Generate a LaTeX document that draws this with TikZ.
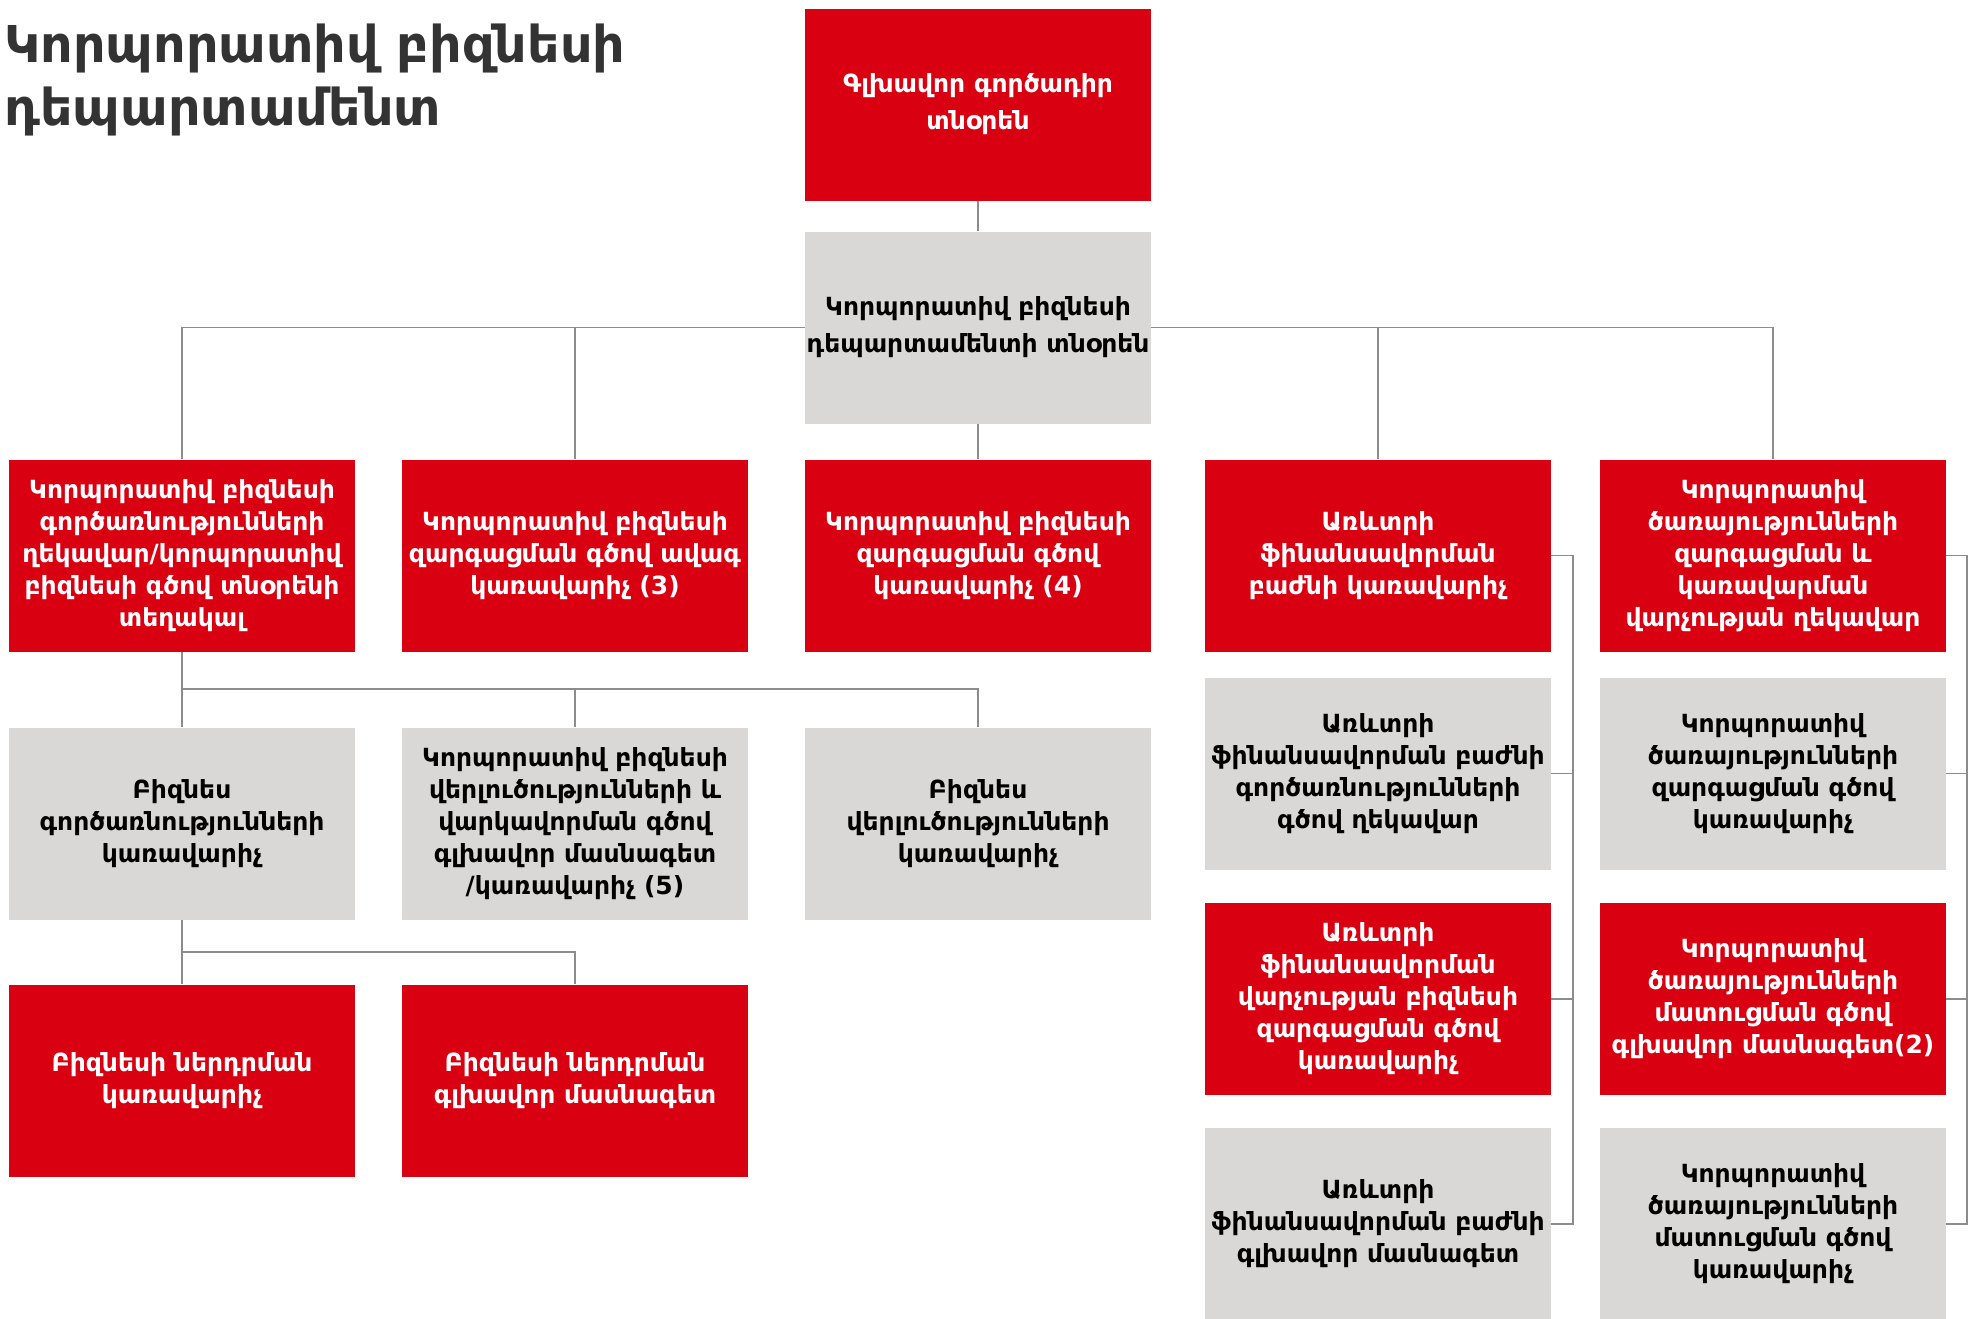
\documentclass[tikz,border=0pt]{standalone}
\usepackage{fontspec}
\setmainfont[Script=Armenian]{DejaVu Sans}
\usepackage{tikz}

\definecolor{boxred}{RGB}{217,0,18}
\definecolor{boxgray}{RGB}{217,216,214}
\definecolor{linegray}{RGB}{140,140,140}
\definecolor{titlegray}{RGB}{51,51,51}

\begin{document}
\begin{tikzpicture}[x=1pt,y=-1pt,
        box/.style={minimum width=346pt,minimum height=192pt,inner sep=0pt,align=center,
            font=\fontsize{25}{32}\selectfont\bfseries},
        redbox/.style={box,fill=boxred,text=white},
        graybox/.style={box,fill=boxgray,text=black},
        wide/.style={font=\fontsize{25}{37}\selectfont\bfseries},
        link/.style={draw=linegray,line width=1.6pt}]
        \useasboundingbox (0,0) rectangle (1972,1318);
        \node[anchor=north west,inner sep=0pt,align=left,text=titlegray,
            font=\fontsize{50.8}{63}\selectfont\bfseries] (title) at (4,24) {Կորպորատիվ բիզնեսի\\դեպարտամենտ};
        \node[redbox,wide] (ceo) at (978,104.5) {Գլխավոր գործադիր\\տնօրեն};
        \node[graybox,wide] (head) at (978,327.5) {Կորպորատիվ բիզնեսի\\դեպարտամենտի տնօրեն};
        \node[redbox] (dep) at (182,555.5) {Կորպորատիվ բիզնեսի\\գործառնությունների\\ղեկավար/կորպորատիվ\\բիզնեսի գծով տնօրենի\\տեղակալ};
        \node[redbox] (sdev) at (575,555.5) {Կորպորատիվ բիզնեսի\\զարգացման գծով ավագ\\կառավարիչ  (3)};
        \node[redbox] (dev) at (978,555.5) {Կորպորատիվ բիզնեսի\\զարգացման գծով\\կառավարիչ (4)};
        \node[redbox] (tfin) at (1378,555.5) {Առևտրի\\ֆինանսավորման\\բաժնի կառավարիչ};
        \node[redbox] (csrv) at (1773,555.5) {Կորպորատիվ\\ծառայությունների\\զարգացման և\\կառավարման\\վարչության ղեկավար};
        \node[graybox] (bops) at (182,823.5) {Բիզնես\\գործառնությունների\\կառավարիչ};
        \node[graybox] (anl) at (575,823.5) {Կորպորատիվ բիզնեսի\\վերլուծությունների և\\վարկավորման գծով\\գլխավոր մասնագետ\\/կառավարիչ (5)};
        \node[graybox] (banl) at (978,823.5) {Բիզնես\\վերլուծությունների\\կառավարիչ};
        \node[redbox] (impm) at (182,1080.5) {Բիզնեսի ներդրման\\կառավարիչ};
        \node[redbox] (imps) at (575,1080.5) {Բիզնեսի ներդրման\\գլխավոր մասնագետ};
        \node[graybox] (tfops) at (1378,773.5) {Առևտրի\\ֆինանսավորման բաժնի\\գործառնությունների\\գծով ղեկավար};
        \node[redbox] (tfdev) at (1378,999) {Առևտրի\\ֆինանսավորման\\վարչության բիզնեսի\\զարգացման գծով\\կառավարիչ};
        \node[graybox] (tfspec) at (1378,1224) {Առևտրի\\ֆինանսավորման բաժնի\\գլխավոր մասնագետ};
        \node[graybox] (csdev) at (1773,773.5) {Կորպորատիվ\\ծառայությունների\\զարգացման գծով\\կառավարիչ};
        \node[redbox] (csspec) at (1773,999) {Կորպորատիվ\\ծառայությունների\\մատուցման գծով\\գլխավոր մասնագետ(2)};
        \node[graybox] (csmgr) at (1773,1224) {Կորպորատիվ\\ծառայությունների\\մատուցման գծով\\կառավարիչ};
        \coordinate (busa) at (182,689);
        \coordinate (busb) at (182,952);
        \coordinate (brtf) at (1573,555.5);
        \coordinate (brcs) at (1967,555.5);
        \draw[link] (ceo) -- (head);
        \draw[link] (head) -- (dev);
        \draw[link] (head.west) -| (dep);
        \draw[link] (head.west) -| (sdev);
        \draw[link] (head.east) -| (tfin);
        \draw[link] (head.east) -| (csrv);
        \draw[link] (dep) -- (bops);
        \draw[link] (busa) -| (anl);
        \draw[link] (busa) -| (banl);
        \draw[link] (bops) -- (impm);
        \draw[link] (busb) -| (imps);
        \draw[link] (tfin.east) -- (brtf) |- (tfspec.east);
        \draw[link] (tfops.east) -- (tfops.east -| brtf);
        \draw[link] (tfdev.east) -- (tfdev.east -| brtf);
        \draw[link] (csrv.east) -- (brcs) |- (csmgr.east);
        \draw[link] (csdev.east) -- (csdev.east -| brcs);
        \draw[link] (csspec.east) -- (csspec.east -| brcs);
\end{tikzpicture}
\end{document}
